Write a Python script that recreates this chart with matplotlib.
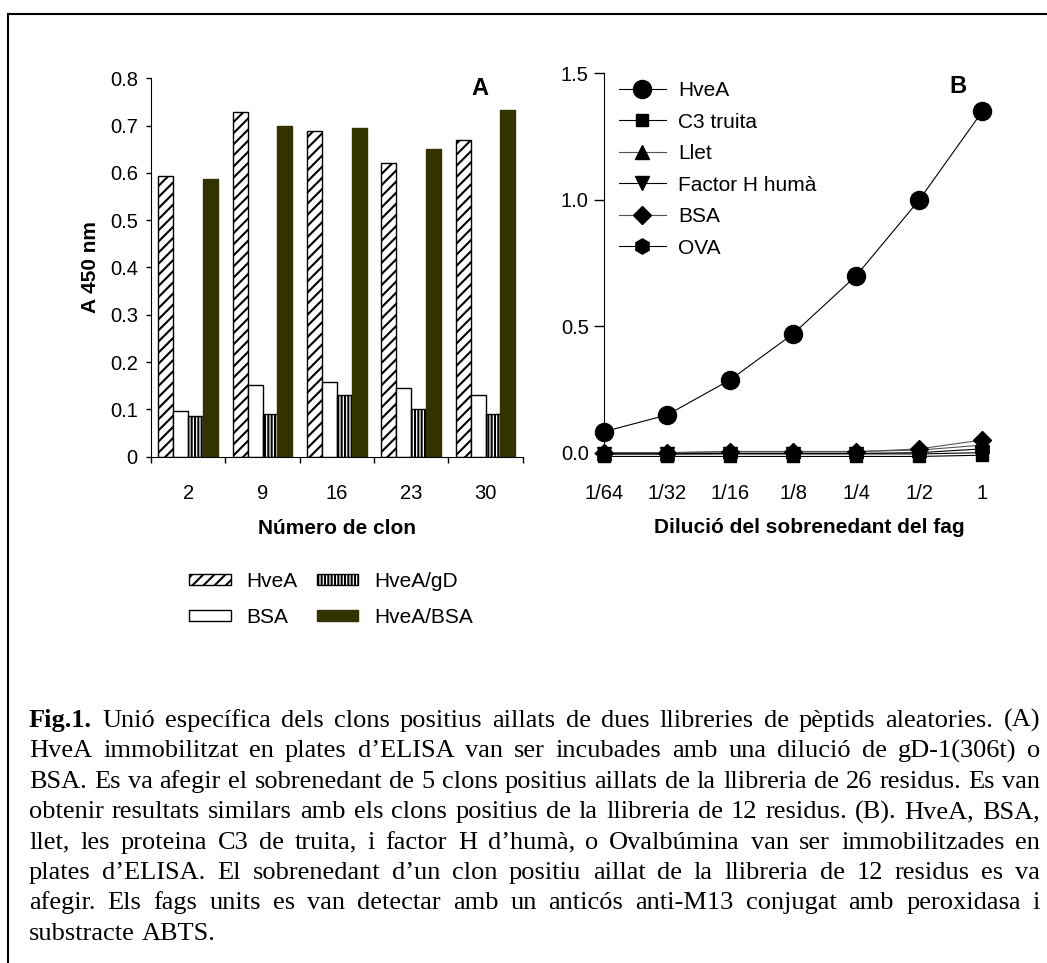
import matplotlib
matplotlib.use('Agg')
import matplotlib.pyplot as plt
from matplotlib.lines import Line2D
import numpy as np

plt.rcParams['font.family'] = ['Liberation Sans', 'DejaVu Sans']
plt.rcParams['hatch.linewidth'] = 1.5

# --- panel A data
clons = ['2', '9', '16', '23', '30']
hvea = [0.593, 0.728, 0.688, 0.620, 0.669]
bsa = [0.097, 0.151, 0.157, 0.145, 0.130]
hvea_gd = [0.085, 0.090, 0.130, 0.100, 0.090]
hvea_bsa = [0.587, 0.700, 0.694, 0.651, 0.734]

# --- panel B data
dilucions = ['1/64', '1/32', '1/16', '1/8', '1/4', '1/2', '1']
b_hvea = [0.083, 0.149, 0.288, 0.470, 0.700, 1.000, 1.350]
b_c3 = [-0.015, -0.015, -0.015, -0.015, -0.015, -0.015, -0.010]
b_llet = [0.000, 0.000, 0.005, 0.005, 0.005, 0.010, 0.030]
b_factorh = [-0.005, -0.005, -0.005, -0.005, -0.005, -0.005, 0.000]
b_bsa = [0.000, 0.000, 0.003, 0.003, 0.003, 0.015, 0.050]
b_ova = [-0.005, -0.005, -0.003, -0.003, -0.003, 0.000, 0.015]

caption = [
    "Fig.1. Unió específica dels clons positius aillats de dues llibreries de pèptids aleatories. (A)",
    "HveA immobilitzat en plates d’ELISA van ser incubades amb una dilució de gD-1(306t) o",
    "BSA. Es va afegir el sobrenedant de 5 clons positius aillats de la llibreria de 26 residus. Es van",
    "obtenir resultats similars amb els clons positius de la llibreria de 12 residus. (B). HveA, BSA,",
    "llet, les proteina C3 de truita, i factor H d’humà, o Ovalbúmina van ser immobilitzades en",
    "plates d’ELISA. El sobrenedant d’un clon positiu aillat de la llibreria de 12 residus es va",
    "afegir. Els fags units es van detectar amb un anticós anti-M13 conjugat amb peroxidasa i",
    "substracte ABTS.",
]

W, H = 1047, 963
fig = plt.figure(figsize=(W / 100, H / 100), dpi=100)


def box(l, t, r, b):
    return [l / W, 1 - b / H, (r - l) / W, (b - t) / H]


fs = 14.5

# ---------------- panel A
axA = fig.add_axes(box(151, 78.3, 522.7, 456.7))
x = np.arange(len(clons))
w = 0.2
axA.bar(x - 0.3, hvea, w, color='white', edgecolor='black', hatch='///', lw=1, label='HveA')
axA.bar(x - 0.1, bsa, w, color='white', edgecolor='black', lw=1, label='BSA')
axA.bar(x + 0.1, hvea_gd, w, color='white', edgecolor='black', hatch='|||||', lw=1, label='HveA/gD')
axA.bar(x + 0.3, hvea_bsa, w, color='#333300', edgecolor='#333300', lw=1, label='HveA/BSA')
axA.set_xlim(-0.5, 4.5)
axA.set_ylim(0, 0.8)
yt = np.arange(0, 0.81, 0.1)
axA.set_yticks(yt, ['0'] + ['%.1f' % v for v in yt[1:]])
axA.set_xticks(x, clons)
axA.set_xticks(np.arange(-0.5, 4.6, 1), minor=True)
axA.tick_params(axis='x', which='major', length=0, pad=20, labelsize=fs)
axA.tick_params(axis='x', which='minor', length=4.5, width=1)
axA.tick_params(axis='y', length=3.5, width=1, pad=6, labelsize=fs)
for s in ['top', 'right']:
    axA.spines[s].set_visible(False)
axA.set_ylabel('A 450 nm', fontsize=15, fontweight='bold', labelpad=7)
axA.set_xlabel('Número de clon', fontsize=15, fontweight='bold', labelpad=11)
axA.text(0.885, 0.974, 'A', transform=axA.transAxes, fontsize=17, fontweight='bold',
         ha='center', va='center')

fig.legend(*axA.get_legend_handles_labels(), loc='upper left',
           bbox_to_anchor=(189 / W, 1 - 572 / H), ncol=2, frameon=False, fontsize=15,
           handlelength=2.0, handleheight=0.47, handletextpad=0.77, columnspacing=0.91,
           labelspacing=0.8, borderpad=0, borderaxespad=0)

# ---------------- panel B
axB = fig.add_axes(box(604, 73.3, 1014, 465.3))
xb = np.arange(len(dilucions))
series = [
    (b_hvea, 'o', 13, 'HveA', 'black'),
    (b_c3, 's', 9, 'C3 truita', 'black'),
    (b_llet, '^', 10, 'Llet', '#555555'),
    (b_factorh, 'v', 10, 'Factor H humà', 'black'),
    (b_bsa, 'D', 9, 'BSA', '#555555'),
    (b_ova, 'h', 11, 'OVA', 'black'),
]
for vals, m, ms, lab, lc in series:
    axB.plot(xb, vals, color=lc, lw=0.8, marker=m, ms=ms, mfc='black', mec='black',
             label=lab, clip_on=False)
axB.set_xlim(0, 6.5)
axB.set_ylim(-0.05, 1.5)
axB.set_yticks([0, 0.5, 1.0, 1.5], ['0.0', '0.5', '1.0', '1.5'])
axB.set_xticks(xb, dilucions)
axB.tick_params(axis='x', length=0, pad=13.5, labelsize=fs)
axB.tick_params(axis='y', length=7.5, width=1, pad=3.5, labelsize=fs)
for s in ['top', 'right', 'bottom']:
    axB.spines[s].set_visible(False)
axB.spines['left'].set_bounds(0, 1.5)
axB.set_xlabel('Dilució del sobrenedant del fag', fontsize=15, fontweight='bold', labelpad=11)
axB.text(0.863, 0.966, 'B', transform=axB.transAxes, fontsize=17, fontweight='bold',
         ha='center', va='center')
axB.legend(loc='upper left', bbox_to_anchor=(0.0366, 0.98), frameon=False, fontsize=15,
           handlelength=2.25, handletextpad=0.6, labelspacing=0.6, borderpad=0,
           borderaxespad=0)

# ---------------- frame lines
fig.add_artist(Line2D([7.5 / W, 7.5 / W], [0, 1 - 14 / H], color='black', lw=1.5))
fig.add_artist(Line2D([7.5 / W, 1], [1 - 14 / H, 1 - 14 / H], color='black', lw=1.5))

# ---------------- justified caption
fig.canvas.draw()
r = fig.canvas.get_renderer()
x0, x1 = 29, 1040
cap_fs = 19
for i, line in enumerate(caption):
    y = 1 - (727 + 30.4 * i) / H
    words = line.split(' ')
    size = cap_fs
    while True:
        ts = []
        for j, wd in enumerate(words):
            bold = (i == 0 and j == 0)
            ts.append(fig.text(0, y, wd, fontsize=size, family='Liberation Serif',
                               fontweight='bold' if bold else 'normal', va='baseline'))
        ws = [t.get_window_extent(r).width for t in ts]
        if sum(ws) + 3.5 * (len(ws) - 1) <= x1 - x0 or size < 15:
            break
        for t in ts:
            t.remove()
        size -= 0.25
    if i < len(caption) - 1:
        gap = (x1 - x0 - sum(ws)) / (len(ws) - 1)
    else:
        gap = 0.25 * size * 100 / 72
    xx = x0
    for t, ww in zip(ts, ws):
        t.set_x(xx / W)
        xx += ww + gap

fig.savefig('out.png', dpi=100)
